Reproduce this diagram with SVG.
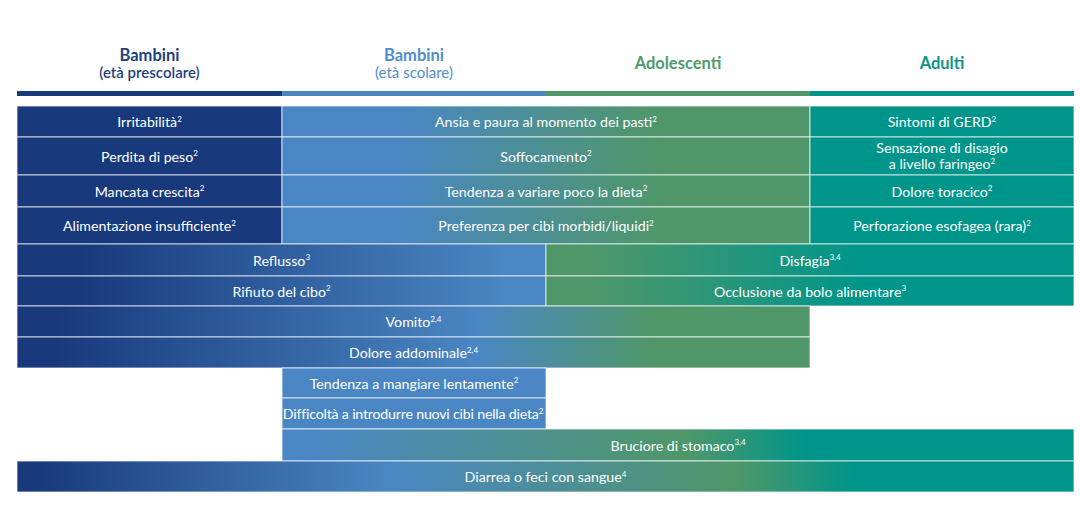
<svg xmlns="http://www.w3.org/2000/svg" width="1080" height="526" viewBox="0 0 1080 526">
<style>
  .hd { font-family: Lato, "Open Sans", "Liberation Sans", sans-serif; text-anchor: middle; }
  .hb { font-size: 16.5px; font-weight: 700; }
  .hs { font-size: 15px; font-weight: 400; }
  .hs6 { font-weight: 600; }
  .ct { font-family: Lato, "Open Sans", "Liberation Sans", sans-serif; font-size: 14.2px; fill: #ffffff; text-anchor: middle; }
  .sp { font-size: 8px; }
  .cell { stroke: #ffffff; stroke-opacity: 0.6; stroke-width: 1.2; }
  .navy { fill: #183a7d; }
  .blue { fill: #4a86c3; }
  .green { fill: #4f9769; }
  .teal { fill: #00958a; }
</style>
<defs>
  <linearGradient id="gNB" x1="0" y1="0" x2="1" y2="0">
    <stop offset="0.12" stop-color="#183a7d"/>
    <stop offset="0.92" stop-color="#4a86c3"/>
  </linearGradient>
  <linearGradient id="gNBG" x1="0" y1="0" x2="1" y2="0">
    <stop offset="0.05" stop-color="#183a7d"/>
    <stop offset="0.58" stop-color="#4a86c3"/>
    <stop offset="0.8" stop-color="#4f9769"/>
  </linearGradient>
  <linearGradient id="gBG" x1="0" y1="0" x2="1" y2="0">
    <stop offset="0.22" stop-color="#4a86c3"/>
    <stop offset="0.72" stop-color="#4f9769"/>
  </linearGradient>
  <linearGradient id="gGT" x1="0" y1="0" x2="1" y2="0">
    <stop offset="0.08" stop-color="#4f9769"/>
    <stop offset="0.6" stop-color="#00958a"/>
  </linearGradient>
  <linearGradient id="gBGT" x1="0" y1="0" x2="1" y2="0">
    <stop offset="0.04" stop-color="#4a86c3"/>
    <stop offset="0.51" stop-color="#4f9769"/>
    <stop offset="0.66" stop-color="#00958a"/>
  </linearGradient>
  <linearGradient id="gAll" x1="0" y1="0" x2="1" y2="0">
    <stop offset="0.02" stop-color="#183a7d"/>
    <stop offset="0.35" stop-color="#4a86c3"/>
    <stop offset="0.68" stop-color="#4f9769"/>
    <stop offset="0.79" stop-color="#00958a"/>
  </linearGradient>
</defs>

<g id="headers">
  <g id="h-prescolare">
    <text class="hd hb" x="149.5" y="61" fill="#1d3f80">Bambini</text>
    <text class="hd hs hs6" x="149.5" y="78" fill="#1d3f80">(età prescolare)</text>
    <rect x="17" y="91" width="265" height="5" fill="#183a7d"/>
  </g>
  <g id="h-scolare">
    <text class="hd hb" x="414" y="61" fill="#4f8dca">Bambini</text>
    <text class="hd hs" x="414" y="78" fill="#4f8dca">(età scolare)</text>
    <rect x="282" y="91" width="264" height="5" fill="#4a86c3"/>
  </g>
  <g id="h-adolescenti">
    <text class="hd hb" x="678" y="69" fill="#4f9a6c">Adolescenti</text>
    <rect x="546" y="91" width="264" height="5" fill="#4f9769"/>
  </g>
  <g id="h-adulti">
    <text class="hd hb" x="942" y="69" fill="#0d9488">Adulti</text>
    <rect x="810" y="91" width="264" height="5" fill="#00958a"/>
  </g>
</g>

<g id="cells">
  <!-- Row 1 -->
  <g id="irritabilita">
    <rect class="cell navy" x="17" y="106" width="265" height="31"/>
    <text class="ct" x="149.5" y="127">Irritabilità<tspan class="sp" dy="-5.5">2</tspan></text>
  </g>
  <g id="ansia">
    <rect class="cell" fill="url(#gBG)" x="282" y="106" width="528" height="31"/>
    <text class="ct" x="546" y="127">Ansia e paura al momento dei pasti<tspan class="sp" dy="-5.5">2</tspan></text>
  </g>
  <g id="gerd">
    <rect class="cell teal" x="810" y="106" width="264" height="31"/>
    <text class="ct" x="942" y="127">Sintomi di GERD<tspan class="sp" dy="-5.5">2</tspan></text>
  </g>
  <!-- Row 2 -->
  <g id="perdita-peso">
    <rect class="cell navy" x="17" y="137" width="265" height="38"/>
    <text class="ct" x="149.5" y="161.5">Perdita di peso<tspan class="sp" dy="-5.5">2</tspan></text>
  </g>
  <g id="soffocamento">
    <rect class="cell" fill="url(#gBG)" x="282" y="137" width="528" height="38"/>
    <text class="ct" x="546" y="161.5">Soffocamento<tspan class="sp" dy="-5.5">2</tspan></text>
  </g>
  <g id="disagio-faringeo">
    <rect class="cell teal" x="810" y="137" width="264" height="38"/>
    <text class="ct" x="942" y="153">Sensazione di disagio</text>
    <text class="ct" x="942" y="169">a livello faringeo<tspan class="sp" dy="-5.5">2</tspan></text>
  </g>
  <!-- Row 3 -->
  <g id="mancata-crescita">
    <rect class="cell navy" x="17" y="175" width="265" height="32"/>
    <text class="ct" x="149.5" y="196.5">Mancata crescita<tspan class="sp" dy="-5.5">2</tspan></text>
  </g>
  <g id="variare-dieta">
    <rect class="cell" fill="url(#gBG)" x="282" y="175" width="528" height="32"/>
    <text class="ct" x="546" y="196.5">Tendenza a variare poco la dieta<tspan class="sp" dy="-5.5">2</tspan></text>
  </g>
  <g id="dolore-toracico">
    <rect class="cell teal" x="810" y="175" width="264" height="32"/>
    <text class="ct" x="942" y="196.5">Dolore toracico<tspan class="sp" dy="-5.5">2</tspan></text>
  </g>
  <!-- Row 4 -->
  <g id="alimentazione">
    <rect class="cell navy" x="17" y="207" width="265" height="37"/>
    <text class="ct" x="149.5" y="231">Alimentazione insufficiente<tspan class="sp" dy="-5.5">2</tspan></text>
  </g>
  <g id="cibi-morbidi">
    <rect class="cell" fill="url(#gBG)" x="282" y="207" width="528" height="37"/>
    <text class="ct" x="546" y="231">Preferenza per cibi morbidi/liquidi<tspan class="sp" dy="-5.5">2</tspan></text>
  </g>
  <g id="perforazione">
    <rect class="cell teal" x="810" y="207" width="264" height="37"/>
    <text class="ct" x="942" y="231">Perforazione esofagea (rara)<tspan class="sp" dy="-5.5">2</tspan></text>
  </g>
  <!-- Row 5 -->
  <g id="reflusso">
    <rect class="cell" fill="url(#gNB)" x="17" y="244" width="529" height="32"/>
    <text class="ct" x="281.5" y="265.5">Reflusso<tspan class="sp" dy="-5.5">3</tspan></text>
  </g>
  <g id="disfagia">
    <rect class="cell" fill="url(#gGT)" x="546" y="244" width="528" height="32"/>
    <text class="ct" x="810" y="265.5">Disfagia<tspan class="sp" dy="-5.5">3,4</tspan></text>
  </g>
  <!-- Row 6 -->
  <g id="rifiuto-cibo">
    <rect class="cell" fill="url(#gNB)" x="17" y="276" width="529" height="30"/>
    <text class="ct" x="281.5" y="296.5">Rifiuto del cibo<tspan class="sp" dy="-5.5">2</tspan></text>
  </g>
  <g id="occlusione">
    <rect class="cell" fill="url(#gGT)" x="546" y="276" width="528" height="30"/>
    <text class="ct" x="810" y="296.5">Occlusione da bolo alimentare<tspan class="sp" dy="-5.5">3</tspan></text>
  </g>
  <!-- Row 7 -->
  <g id="vomito">
    <rect class="cell" fill="url(#gNBG)" x="17" y="306" width="793" height="31"/>
    <text class="ct" x="413.5" y="327">Vomito<tspan class="sp" dy="-5.5">2,4</tspan></text>
  </g>
  <!-- Row 8 -->
  <g id="dolore-addominale">
    <rect class="cell" fill="url(#gNBG)" x="17" y="337" width="793" height="31"/>
    <text class="ct" x="413.5" y="358">Dolore addominale<tspan class="sp" dy="-5.5">2,4</tspan></text>
  </g>
  <!-- Row 9 -->
  <g id="mangiare-lentamente">
    <rect class="cell blue" x="282" y="368" width="264" height="30"/>
    <text class="ct" x="414" y="388.5">Tendenza a mangiare lentamente<tspan class="sp" dy="-5.5">2</tspan></text>
  </g>
  <!-- Row 10 -->
  <g id="nuovi-cibi">
    <rect class="cell blue" x="282" y="398" width="264" height="31"/>
    <text class="ct" x="413" y="419" letter-spacing="-0.2">Difficoltà a introdurre nuovi cibi nella dieta<tspan class="sp" dy="-5.5">2</tspan></text>
  </g>
  <!-- Row 11 -->
  <g id="bruciore">
    <rect class="cell" fill="url(#gBGT)" x="282" y="429" width="792" height="32"/>
    <text class="ct" x="678" y="450.5">Bruciore di stomaco<tspan class="sp" dy="-5.5">3,4</tspan></text>
  </g>
  <!-- Row 12 -->
  <g id="diarrea">
    <rect class="cell" fill="url(#gAll)" x="17" y="461" width="1057" height="31"/>
    <text class="ct" x="545.5" y="482">Diarrea o feci con sangue<tspan class="sp" dy="-5.5">4</tspan></text>
  </g>
</g>
</svg>
